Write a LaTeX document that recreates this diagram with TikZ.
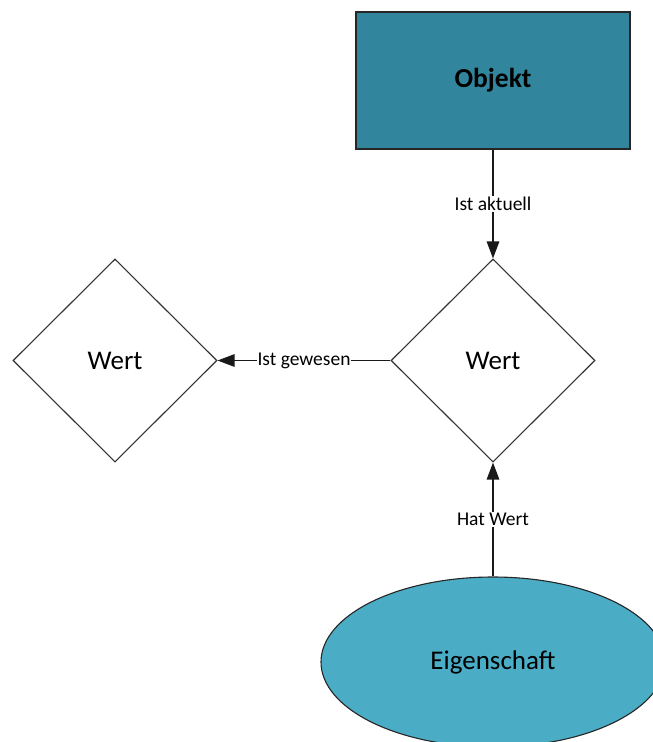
\documentclass[tikz,border=0pt]{standalone}
\usepackage{fontspec}
\setmainfont{Carlito}
\usetikzlibrary{shapes.geometric,arrows.meta}
\definecolor{objfill}{HTML}{31859C}
\definecolor{ellfill}{HTML}{4BACC6}
\begin{document}
\begin{tikzpicture}[x=1pt,y=-1pt,
  objbox/.style={draw=black!85, line width=1.1pt, fill=objfill, rectangle,
    minimum width=274pt, minimum height=137pt, inner sep=0pt,
    font=\fontsize{27.5}{32}\selectfont\bfseries},
  wertbox/.style={draw=black!80, line width=1.1pt, fill=white, diamond,
    minimum width=204pt, minimum height=203pt, inner sep=0pt,
    font=\fontsize{27}{32}\selectfont},
  ellbox/.style={draw=black!85, line width=1.1pt, fill=ellfill, ellipse,
    minimum width=344pt, minimum height=170pt, inner sep=0pt,
    font=\fontsize{27}{32}\selectfont},
  conn/.style={draw=black!90, line width=1.3pt, -{Triangle[length=17pt,width=12.5pt]}},
  lbl/.style={fill=white, inner sep=1pt, font=\fontsize{19.5}{23}\selectfont}]
\useasboundingbox (0,0) rectangle (653,742);
\clip (0,0) rectangle (653,742);
\node[objbox] (obj) at (493,80.5) {Objekt};
\node[wertbox] (w1) at (493,360.5) {Wert};
\node[wertbox] (w2) at (115,360.5) {Wert};
\node[ellbox] (eig) at (493,662) {Eigenschaft};
\draw[conn] (obj.south) -- node[lbl] {Ist aktuell} (w1.north);
\draw[conn] (w1.west) -- node[lbl] {Ist gewesen} (w2.east);
\draw[conn] (eig.north) -- node[lbl] {Hat Wert} (w1.south);
\end{tikzpicture}
\end{document}
